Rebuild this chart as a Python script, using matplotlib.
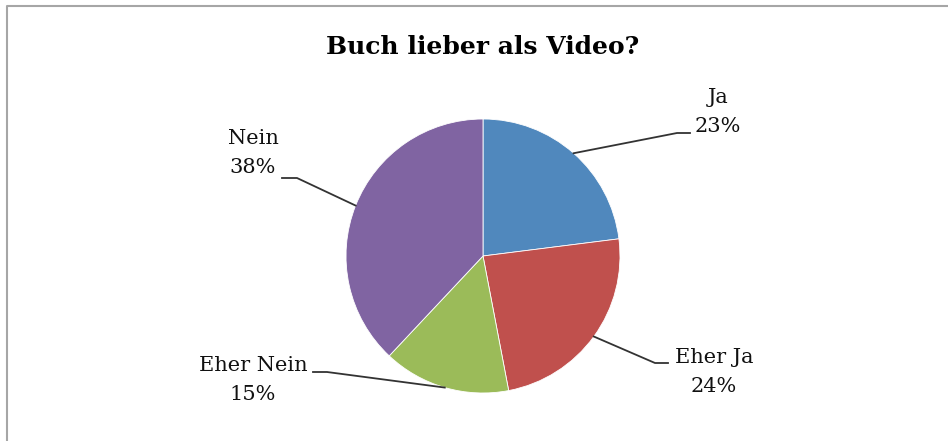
import numpy as np
import matplotlib.pyplot as plt

labels = ['Ja', 'Eher Ja', 'Eher Nein', 'Nein']
shares = [23, 24, 15, 38]
colors = ['#5088BD', '#C0504D', '#9BBB59', '#8064A2']

W, H = 948, 441
cx, cy, r = 483, 256, 137

fig = plt.figure(figsize=(W / 100, H / 100), dpi=100)
ax = fig.add_axes([0, 0, 1, 1])

def fy(y):
    return H - y

wedges, _ = ax.pie(shares, colors=colors, startangle=90, counterclock=False,
                   center=(cx, fy(cy)), radius=r,
                   wedgeprops=dict(edgecolor='white', linewidth=0.6), frame=True)
ax.set_xlim(0, W)
ax.set_ylim(0, H)
ax.axis('off')

# frame: top and left edge only
ax.plot([7, 7, W], [0, fy(5.5), fy(5.5)], color='#a6a6a6', lw=1.5)

ax.text(483, fy(47), 'Buch lieber als Video?', ha='center', va='center',
        fontsize=18, fontweight='bold', family='DejaVu Serif')

# text centre, elbow point, end of horizontal segment (pixels)
layout = {
    'Ja': ((718, 112), (677, 133), (690, 133)),
    'Eher Ja': ((714, 372), (655, 363), (668, 363)),
    'Eher Nein': ((253, 380), (327, 372), (313, 372)),
    'Nein': ((253, 153), (297, 178), (282, 178)),
}

for w, lab, s in zip(wedges, labels, shares):
    mid = np.deg2rad((w.theta1 + w.theta2) / 2)
    x0 = cx + r * np.cos(mid)
    y0 = fy(cy) + r * np.sin(mid)
    (tx, ty), (ex, ey), (hx, hy) = layout[lab]
    ax.plot([x0, ex, hx], [y0, fy(ey), fy(hy)], color='#333333', lw=1.3)
    ax.text(tx, fy(ty), f'{lab}\n{s}%', ha='center', va='center',
            fontsize=15, family='DejaVu Serif', linespacing=1.72, color='#111111')

fig.savefig('out.png', dpi=100)
